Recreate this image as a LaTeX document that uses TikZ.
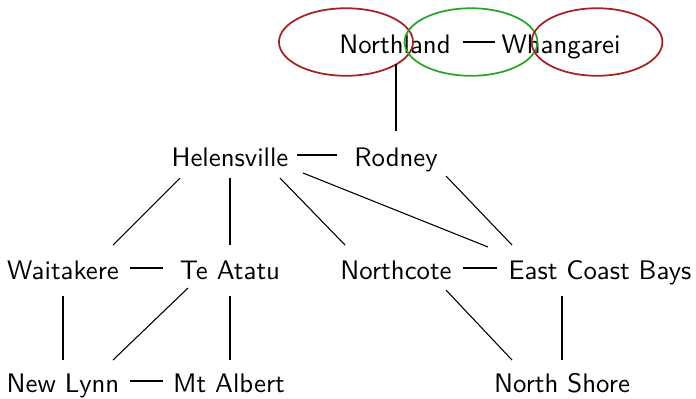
\documentclass[tikz,border=0pt]{standalone}
\definecolor{ringred}{RGB}{165,32,32}
\definecolor{ringgreen}{RGB}{40,165,40}
\begin{document}
\begin{tikzpicture}[x=0.3731pt,y=-0.3731pt,
  lbl/.style={inner sep=0pt, anchor=base, font=\sffamily},
  edge/.style={line width=0.4pt, black},
  redring/.style={draw=ringred, line width=0.65pt},
  greenring/.style={draw=ringgreen, line width=0.65pt}]
\useasboundingbox (0,0) rectangle (696,398);
% nodes
\node[lbl] (nor) at (395,53) {Northland};
\node[lbl] (wha) at (561,53) {Whangarei};
\node[lbl] (hel) at (230,166) {Helensville};
\node[lbl] (rod) at (396,166) {Rodney};
\node[lbl] (wai) at (63,279) {Waitakere};
\node[lbl] (tea) at (230,279) {Te Atatu};
\node[lbl] (nco) at (396,279) {Northcote};
\node[lbl] (ecb) at (600,279) {East Coast Bays};
\node[lbl] (nly) at (63,392) {New Lynn};
\node[lbl] (mta) at (229,392) {Mt Albert};
\node[lbl] (nsh) at (562,392) {North Shore};
% rings
\draw[redring] (346,42) ellipse [x radius=25pt, y radius=12.6pt];
\draw[greenring] (471,42) ellipse [x radius=24.8pt, y radius=12.6pt];
\draw[redring] (597,42) ellipse [x radius=24.4pt, y radius=12.6pt];
% edges
\draw[edge] ([shift={(68,-11)}]nor.base) -- ([shift={(-66,-11)}]wha.base);
\draw[edge] ([shift={(1,11)}]nor.base) -- ([shift={(0,-35)}]rod.base);
\draw[edge] ([shift={(67,-11)}]hel.base) -- ([shift={(-59,-11)}]rod.base);
\draw[edge] ([shift={(-50,12)}]hel.base) -- ([shift={(50,-34)}]wai.base);
\draw[edge] ([shift={(0,12)}]hel.base) -- ([shift={(0,-34)}]tea.base);
\draw[edge] ([shift={(50,12)}]hel.base) -- ([shift={(-51,-34)}]nco.base);
\draw[edge] ([shift={(73,7)}]hel.base) -- ([shift={(-112,-32)}]ecb.base);
\draw[edge] ([shift={(50,10)}]rod.base) -- ([shift={(-88,-34)}]ecb.base);
\draw[edge] ([shift={(67,-11)}]wai.base) -- ([shift={(-67,-11)}]tea.base);
\draw[edge] ([shift={(67,-11)}]nco.base) -- ([shift={(-103,-11)}]ecb.base);
\draw[edge] ([shift={(0,17)}]wai.base) -- ([shift={(0,-32)}]nly.base);
\draw[edge] ([shift={(-42,9)}]tea.base) -- ([shift={(50,-32)}]nly.base);
\draw[edge] ([shift={(0,17)}]tea.base) -- ([shift={(1,-32)}]mta.base);
\draw[edge] ([shift={(50,11)}]nco.base) -- ([shift={(-50,-32)}]nsh.base);
\draw[edge] ([shift={(-38,17)}]ecb.base) -- ([shift={(0,-32)}]nsh.base);
\draw[edge] ([shift={(67,-11)}]nly.base) -- ([shift={(-66,-11)}]mta.base);
\end{tikzpicture}
\end{document}
